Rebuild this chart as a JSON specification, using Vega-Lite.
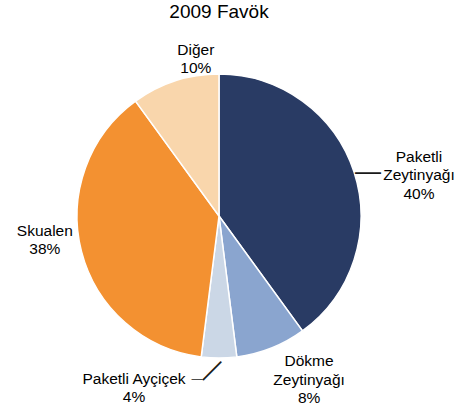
{
  "$schema": "https://vega.github.io/schema/vega-lite/v6.json",
  "width": 438,
  "height": 372,
  "autosize": {"type": "none"},
  "padding": {"left": 0, "top": 30, "right": 27, "bottom": 6},
  "background": "white",
  "title": {"text": "2009 Favök", "font": "Liberation Sans", "fontSize": 19, "fontWeight": "normal", "color": "#000000", "anchor": "middle", "frame": "group", "offset": 8},
  "config": {"view": {"stroke": null}},
  "data": {"values": [
    {"segment": "Paketli Zeytinyağı", "label": "Paketli\nZeytinyağı\n40%", "share": 40, "order": 1},
    {"segment": "Dökme Zeytinyağı", "label": "Dökme\nZeytinyağı\n8%", "share": 8, "order": 2},
    {"segment": "Paketli Ayçiçek", "label": "Paketli Ayçiçek\n4%", "share": 4, "order": 3},
    {"segment": "Skualen", "label": "Skualen\n38%", "share": 38, "order": 4},
    {"segment": "Diğer", "label": "Diğer\n10%", "share": 10, "order": 5}
  ]},
  "transform": [
    {"stack": "share", "groupby": [], "sort": [{"field": "order", "order": "ascending"}], "as": ["t0", "t1"]},
    {"calculate": "(datum.t0 + datum.t1) / 2", "as": "tmid"}
  ],
  "layer": [
    {
      "mark": {"type": "arc", "radius": 142, "stroke": "white", "strokeWidth": 1.5},
      "encoding": {
        "theta": {"field": "t0", "type": "quantitative", "scale": {"domain": [0, 100]}},
        "theta2": {"field": "t1"},
        "color": {"field": "segment", "type": "nominal", "legend": null,
          "scale": {"domain": ["Paketli Zeytinyağı", "Dökme Zeytinyağı", "Paketli Ayçiçek", "Skualen", "Diğer"],
                    "range": ["#293b64", "#8aa5cf", "#cbd7e6", "#f39131", "#f9d6ac"]}}
      }
    },
    {
      "transform": [{"filter": "datum.order == 1"}],
      "mark": {"type": "text", "radius": 185, "dx": 24, "dy": -2, "font": "Liberation Sans", "fontSize": 15.5, "color": "#000000", "lineBreak": "\n", "lineHeight": 18.5, "baseline": "middle", "align": "center"},
      "encoding": {"theta": {"field": "tmid", "type": "quantitative"}, "text": {"field": "label"}}
    },
    {
      "transform": [{"filter": "datum.order == 2"}],
      "mark": {"type": "text", "radius": 185, "dx": 22, "dy": -27, "font": "Liberation Sans", "fontSize": 15.5, "color": "#000000", "lineBreak": "\n", "lineHeight": 18.5, "baseline": "middle", "align": "center"},
      "encoding": {"theta": {"field": "tmid", "type": "quantitative"}, "text": {"field": "label"}}
    },
    {
      "transform": [{"filter": "datum.order == 3"}],
      "mark": {"type": "text", "radius": 185, "dx": -85, "dy": -22, "font": "Liberation Sans", "fontSize": 15.5, "color": "#000000", "lineBreak": "\n", "lineHeight": 17.5, "baseline": "middle", "align": "center"},
      "encoding": {"theta": {"field": "tmid", "type": "quantitative"}, "text": {"field": "label"}}
    },
    {
      "transform": [{"filter": "datum.order == 4"}],
      "mark": {"type": "text", "radius": 185, "dx": 5, "dy": -31, "font": "Liberation Sans", "fontSize": 15.5, "color": "#000000", "lineBreak": "\n", "lineHeight": 17.5, "baseline": "middle", "align": "center"},
      "encoding": {"theta": {"field": "tmid", "type": "quantitative"}, "text": {"field": "label"}}
    },
    {
      "transform": [{"filter": "datum.order == 5"}],
      "mark": {"type": "text", "radius": 185, "dx": 34, "dy": 9.5, "font": "Liberation Sans", "fontSize": 15.5, "color": "#000000", "lineBreak": "\n", "lineHeight": 18, "baseline": "middle", "align": "center"},
      "encoding": {"theta": {"field": "tmid", "type": "quantitative"}, "text": {"field": "label"}}
    },
    {
      "transform": [{"filter": "datum.order == 1"}],
      "mark": {"type": "text", "text": "—", "radius": 185, "dx": -27, "dy": 13, "font": "Liberation Sans", "fontSize": 26, "color": "#1a1a1a", "baseline": "middle", "align": "center"},
      "encoding": {"theta": {"field": "tmid", "type": "quantitative"}}
    },
    {
      "transform": [{"filter": "datum.order == 3"}],
      "mark": {"type": "text", "text": "—", "radius": 185, "dx": -22, "dy": -22, "font": "Liberation Sans", "fontSize": 11, "color": "#1a1a1a", "baseline": "middle", "align": "center"},
      "encoding": {"theta": {"field": "tmid", "type": "quantitative"}}
    },
    {
      "transform": [{"filter": "datum.order == 3"}],
      "mark": {"type": "text", "text": "—", "radius": 185, "dx": 16.3, "dy": -27.6, "angle": -45, "font": "Liberation Sans", "fontSize": 26, "color": "#1a1a1a", "baseline": "middle", "align": "center"},
      "encoding": {"theta": {"field": "tmid", "type": "quantitative"}}
    }
  ]
}
